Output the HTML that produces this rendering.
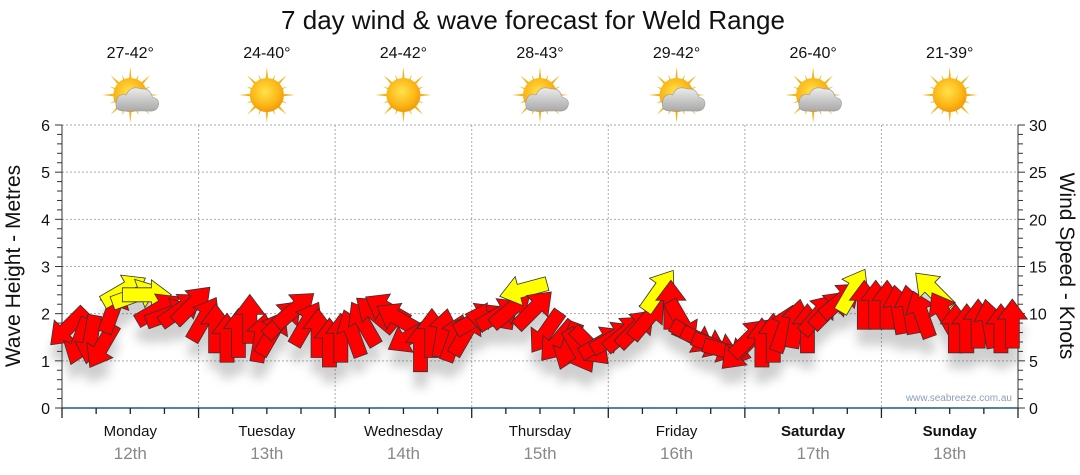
<!DOCTYPE html>
<html><head><meta charset="utf-8"><style>
html,body{margin:0;padding:0;background:#fff;}
svg{display:block;font-family:"Liberation Sans",sans-serif;}
</style></head><body>
<svg id="c" width="1080" height="475" viewBox="0 0 1080 475">
<defs>
<filter id="sh" x="-20%" y="-20%" width="140%" height="160%"><feGaussianBlur stdDeviation="5"/></filter>
<radialGradient id="sun" cx="45%" cy="40%" r="60%"><stop offset="0" stop-color="#ffe24a"/><stop offset="0.7" stop-color="#fbb515"/><stop offset="1" stop-color="#f09a0a"/></radialGradient>
<linearGradient id="cloud" x1="0" y1="0" x2="0" y2="1"><stop offset="0" stop-color="#ececec"/><stop offset="1" stop-color="#a8a8a8"/></linearGradient>
</defs>
<text x="533" y="29" text-anchor="middle" font-size="26" fill="#111">7 day wind &amp; wave forecast for Weld Range</text>
<g id="grid"></g>
<g id="axes"></g>
<g id="shadows" filter="url(#sh)" opacity="0.28"></g>
<g id="arrows"></g>
<g id="wx"></g>
<text x="1012" y="401" text-anchor="end" font-size="10" fill="#8aa0b8">www.seabreeze.com.au</text>
<text transform="translate(20,266) rotate(-90)" text-anchor="middle" font-size="21" fill="#111">Wave Height - Metres</text>
<text transform="translate(1060,266) rotate(90)" text-anchor="middle" font-size="21" fill="#111">Wind Speed - Knots</text>
</svg>
<script>
const days = ["Monday","Tuesday","Wednesday","Thursday","Friday","Saturday","Sunday"];
const dates = ["12th","13th","14th","15th","16th","17th","18th"];
const temps = ["27-42°","24-40°","24-42°","28-43°","29-42°","26-40°","21-39°"];
const cloudy = [1,0,0,1,1,1,0];
const waveTicks = [0,1,2,3,4,5,6];
const windTicks = [0,5,10,15,20,25,30];
// wind speed in knots every 2 hours
const windSpeed = [8.5,7.0,7.2,6.5,10.5,12.5,12.0,12.0,10.5,10.0,10.5,11.0,
 9.5,8.5,7.5,8.0,9.5,7.5,8.0,9.5,10.5,9.0,8.0,7.0,
 7.5,8.0,9.0,10.0,10.5,9.5,7.5,6.5,8.0,8.0,7.5,8.0,
 9.5,9.5,10.0,10.5,12.5,10.5,8.0,7.0,6.5,6.0,6.5,7.0,
 7.5,8.0,8.5,9.5,12.5,11.0,9.0,7.5,7.0,6.5,6.0,6.0,
 7.5,7.0,7.5,8.5,9.0,8.5,10.0,10.5,11.5,12.5,11.0,11.0,
 11.0,10.5,10.5,10.0,12.5,10.0,8.5,8.5,9.0,9.0,8.5,9.0];
// direction the arrow points (degrees, 0 = up, clockwise)
const windDir = [225,200,190,210,20,60,70,90,60,70,55,45,
 30,0,0,0,0,10,30,45,50,30,0,0,
 0,340,330,310,300,300,240,0,0,10,20,30,
 60,280,60,50,255,45,215,220,200,150,135,60,
 60,50,45,40,35,0,150,120,115,110,105,225,
 45,0,0,20,10,0,40,45,50,30,0,0,
 0,350,350,340,315,330,0,0,0,350,0,0];
const gust = [0,0,0,0,0,1,1,1,0,0,0,0, 0,0,0,0,0,0,0,0,0,0,0,0, 0,0,0,0,0,0,0,0,0,0,0,0,
 0,0,0,0,1,0,0,0,0,0,0,0, 0,0,0,0,1,0,0,0,0,0,0,0, 0,0,0,0,0,0,0,0,0,1,0,0, 0,0,0,0,1,0,0,0,0,0,0,0];

const NS="http://www.w3.org/2000/svg";
const X0=62, X1=1018, Y0=408, Y1=125;
const dayW=(X1-X0)/7;
const xTime = h => X0 + h/24*dayW;
const yWave = m => Y0 - m/6*(Y0-Y1);
const yWind = k => Y0 - k/30*(Y0-Y1);
function mk(tag, attrs, parent){const e=document.createElementNS(NS,tag);for(const k in attrs)e.setAttribute(k,attrs[k]);parent.appendChild(e);return e;}
const grid=document.getElementById('grid'), axes=document.getElementById('axes');
waveTicks.forEach(t=>{ if(t>0){const l=mk('line',{x1:X0,x2:X1,y1:yWave(t),y2:yWave(t),stroke:'#aaa','stroke-dasharray':'2,2'},grid);
 
 }
 const tx=mk('text',{x:X0-12,y:yWave(t)+6,'text-anchor':'end','font-size':16,fill:'#111'},axes);tx.textContent=t;
 
 
});
for(let v=0;v<=30;v++){ const y=yWind(v); mk('line',{x1:X1,x2:X1+(v%5?5:7),y1:y,y2:y,stroke:'#333'},axes);}
for(let v=0;v<=30;v++){ const y=yWave(v/5); mk('line',{x1:X0,x2:X0-(v%5?5:7),y1:y,y2:y,stroke:'#333'},axes);}
windTicks.forEach(t=>{const tx=mk('text',{x:X1+11,y:yWind(t)+6,'font-size':16,fill:'#111'},axes);tx.textContent=t;
 
 });
mk('line',{x1:X0,x2:X0,y1:Y1,y2:Y0,stroke:'#333'},axes);
mk('line',{x1:X1,x2:X1,y1:Y1,y2:Y0,stroke:'#333'},axes);
for(let d=1;d<7;d++){const l=mk('line',{x1:xTime(d*24),x2:xTime(d*24),y1:Y1,y2:Y0,stroke:'#aaa','stroke-dasharray':'2,2'},grid);
 
 }
mk('line',{x1:X0,x2:X1,y1:Y0,y2:Y0,stroke:'#1a5a86','stroke-width':1.5},axes);
for(let q=0;q<=28;q++){const x=xTime(q*6);mk('line',{x1:x,x2:x,y1:Y0,y2:Y0+(q%4?6:10),stroke:'#222','stroke-width':1.3},axes);}
const wx=document.getElementById('wx');
days.forEach((d,i)=>{const cx=xTime(i*24+12);
 const a=mk('text',{x:cx,y:436,'text-anchor':'middle','font-size':15,fill:'#111','font-weight':i>=5?'bold':'normal'},axes);a.textContent=d;
 
 
 const b=mk('text',{x:cx,y:459,'text-anchor':'middle','font-size':17,fill:'#888'},axes);b.textContent=dates[i];
 
 
 const t=mk('text',{x:cx,y:58,'text-anchor':'middle','font-size':16,fill:'#111'},wx);t.textContent=temps[i];
 
 
 const g=mk('g',{transform:`translate(${cx},95)`},wx);
 
 
 for(let r=0;r<16;r++){const len=r%2?22:28;mk('polygon',{points:`-3,0 3,0 0,${-len}`,fill:'#f5b21a',transform:`rotate(${r*22.5})`},g);}
 mk('circle',{cx:0,cy:0,r:17,fill:'url(#sun)'},g);
 if(cloudy[i]){mk('path',{d:'M-6,16 Q-16,16 -14,7 Q-13,-2 -4,0 Q0,-10 11,-6 Q20,-7 22,2 Q30,4 28,11 Q26,17 18,16 Z',fill:'url(#cloud)',stroke:'#999','stroke-width':0.6},g);}
});
// arrows
const sh=document.getElementById('shadows'), ar=document.getElementById('arrows');
const shape='M-7,25 L7,25 L7,-4 L15,-4 L0,-24 L-15,-4 L-7,-4 Z';
windSpeed.forEach((v,i)=>{const x=xTime(i*2+1), y=yWind(v);
 mk('path',{d:shape,transform:`translate(${x},${y+16}) rotate(${windDir[i]})`,fill:'#555'},sh);
});
windSpeed.forEach((v,i)=>{const x=xTime(i*2+1), y=yWind(v);
 const p=mk('path',{d:shape,transform:`translate(${x},${y}) rotate(${windDir[i]})`,fill:gust[i]?'#ffff00':'#ff0000',stroke:'#333','stroke-width':0.8},ar);
 
 
});
</script>
</body></html>
